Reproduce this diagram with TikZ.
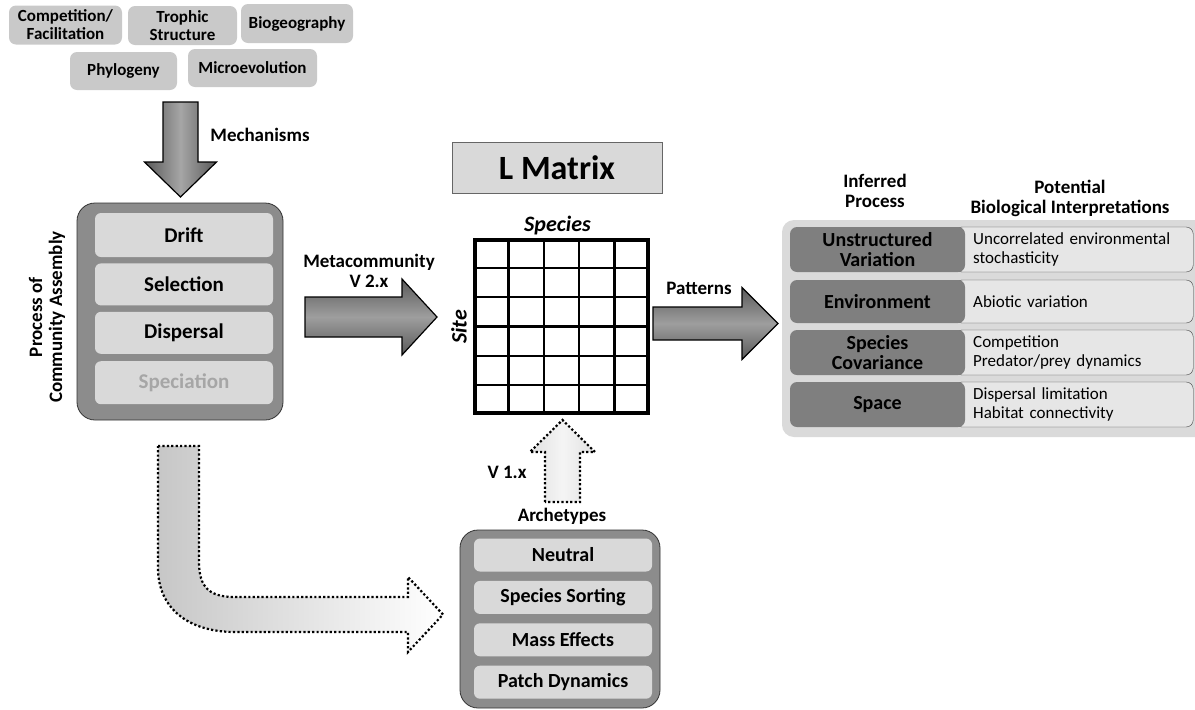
\documentclass[tikz,border=0pt]{standalone}
\usepackage{fontspec}
\setmainfont{Carlito}
\usetikzlibrary{positioning,calc}
\definecolor{topgray}{HTML}{C9C9C9}
\definecolor{groupgray}{HTML}{8C8C8C}
\definecolor{itemgray}{HTML}{D9D9D9}
\definecolor{fadedtext}{HTML}{A6A6A6}
\definecolor{panelgray}{HTML}{DADADA}
\definecolor{rowdarkgray}{HTML}{7F7F7F}
\definecolor{rowlightgray}{HTML}{E6E6E6}

\begin{document}
\begin{tikzpicture}[x=1pt, y=-1pt,
    topbox/.style={rectangle, rounded corners=7pt, fill=topgray, align=center,
                   font=\bfseries\fontsize{17}{18}\selectfont, inner sep=0pt},
    groupbox/.style={rectangle, rounded corners=18pt, draw=black!80,
                     line width=0.8pt, fill=groupgray},
    itembox/.style={rectangle, rounded corners=6pt, fill=itemgray,
                    minimum width=178pt, inner sep=0pt,
                    font=\bfseries\fontsize{21}{22}\selectfont},
    tag/.style={font=\bfseries\fontsize{19}{20}\selectfont, align=center,
                inner sep=0pt},
    fatarrow/.style={draw=black, line width=1.2pt, line join=miter},
    dotarrow/.style={draw=black, line width=2.2pt, dash pattern=on 2.2pt off 2.2pt},
    rowname/.style={rectangle, rounded corners=7pt, fill=rowdarkgray,
                    minimum width=175pt, minimum height=45pt, align=center,
                    inner sep=0pt, font=\bfseries\fontsize{20}{20}\selectfont},
    rowtext/.style={rectangle, rounded corners=7pt, draw=black!75, fill=rowlightgray,
                    anchor=west, text width=202pt, inner xsep=18pt, inner ysep=0pt,
                    minimum height=45pt, align=left,
                    font=\fontsize{17}{19}\selectfont}
]
\useasboundingbox (0,0) rectangle (1195,710);

% mechanisms
\node[topbox, minimum width=113pt, minimum height=39pt] (comp) at (65.5,25) {Competition/\\Facilitation};
\node[topbox, minimum width=109pt, minimum height=39pt] (trophic) at (182.5,25.5) {Trophic\\Structure};
\node[topbox, minimum width=112pt, minimum height=39pt] (biogeo) at (297,23.5) {Biogeography};
\node[topbox, minimum width=107pt, minimum height=38pt] (phylo) at (123.5,71) {Phylogeny};
\node[topbox, minimum width=129pt, minimum height=38pt] (microevo) at (252.5,68) {Microevolution};

\coordinate (mechA) at (180.5,102);
\draw[fatarrow, left color=black!65, right color=black!65, middle color=black!35]
    (mechA) ++(-17.5,0) -- ++(35,0) -- ++(0,60) -- ++(18.5,0) -- ++(-36,35)
    -- ++(-36,-35) -- ++(18.5,0) -- cycle;
\node[tag] (mechlabel) at (260,135) {Mechanisms};

% process of community assembly
\node[groupbox, minimum width=206pt, minimum height=217pt] (procbox) at (180,311.5) {};
\node[itembox, minimum height=44pt] (drift) at (184,235) {Drift};
\node[itembox, minimum height=42pt, below=6pt of drift] (selection) {Selection};
\node[itembox, minimum height=42pt, below=6pt of selection] (dispersal) {Dispersal};
\node[itembox, minimum height=43pt, below=7pt of dispersal, text=fadedtext] (speciation) {Speciation};
\node[tag, rotate=90] (proclabel) at (47,317) {Process of\\Community Assembly};

% metacommunity arrow
\coordinate (metaA) at (305,317);
\draw[fatarrow, top color=black!65, bottom color=black!65, middle color=black!38]
    (metaA) ++(0,-20) -- ++(97,0) -- ++(0,-18) -- ++(35,38) -- ++(-35,38)
    -- ++(0,-18) -- ++(-97,0) -- cycle;
\node[tag] (metalabel) at (369,271) {Metacommunity\\V 2.x};

% L matrix
\node[rectangle, draw=black!60, line width=0.8pt, fill=itemgray, minimum width=210pt,
      minimum height=51pt, font=\bfseries\fontsize{34}{34}\selectfont] (lmatrix) at (557,167.5) {L Matrix};
\node[draw, line width=3.2pt, minimum width=173pt, minimum height=173pt] (lmat) at (561.5,326.5) {};
\foreach \i in {1,...,4}
  \draw[line width=2.3pt] ($(lmat.north west)!\i/5!(lmat.north east)$)
      -- ($(lmat.south west)!\i/5!(lmat.south east)$);
\foreach \j in {1,...,5}
  \draw[line width=2.3pt] ($(lmat.north west)!\j/6!(lmat.south west)$)
      -- ($(lmat.north east)!\j/6!(lmat.south east)$);
\node[tag, font=\bfseries\itshape\fontsize{22}{22}\selectfont] (species) at (557.5,226) {Species};
\node[tag, font=\bfseries\itshape\fontsize{22}{22}\selectfont, rotate=90] (site) at (459,327) {Site};

% patterns arrow
\coordinate (patA) at (653,323.5);
\draw[fatarrow, top color=black!65, bottom color=black!65, middle color=black!38]
    (patA) ++(0,-16.5) -- ++(89,0) -- ++(0,-19.5) -- ++(36,36) -- ++(-36,36)
    -- ++(0,-19.5) -- ++(-89,0) -- cycle;
\node[tag] (patlabel) at (699,288) {Patterns};

% inferred processes
\fill[panelgray, rounded corners=12pt] (782,220) rectangle (1210,437);
\node[tag] (inferred) at (875,191) {Inferred\\Process};
\node[tag] (potential) at (1070,198) {Potential\\Biological Interpretations};

\node[rowtext] (uncorr) at (955,249.5) {Uncorrelated environmental\\stochasticity};
\node[rowname] (unstruct) at (877.5,249.5) {Unstructured\\Variation};
\node[rowtext, minimum height=43pt] (abiotic) at (955,301.5) {Abiotic variation};
\node[rowname, minimum height=43pt] (env) at (877.5,301.5) {Environment};
\node[rowtext] (compet) at (955,352.5) {Competition\\Predator/prey dynamics};
\node[rowname] (spcov) at (877.5,352.5) {Species\\Covariance};
\node[rowtext] (displim) at (955,404.5) {Dispersal limitation\\Habitat connectivity};
\node[rowname] (space) at (877.5,404.5) {Space};

% archetypes
\coordinate (v1A) at (562.5,502);
\draw[dotarrow, left color=black!12, right color=black!12, middle color=black!4]
    (v1A) ++(-17.5,0) -- ++(0,-50) -- ++(-15,0) -- ++(32.5,-32) -- ++(32.5,32)
    -- ++(-15,0) -- ++(0,50) -- cycle;
\node[tag] (v1label) at (507,472) {V 1.x};
\node[tag] (archlabel) at (562,516) {Archetypes};

\node[groupbox, minimum width=200pt, minimum height=178pt] (archbox) at (560,619) {};
\node[itembox, minimum height=33pt, font=\bfseries\fontsize{20}{21}\selectfont] (neutral) at (563,555) {Neutral};
\node[itembox, minimum height=33pt, font=\bfseries\fontsize{20}{21}\selectfont, below=9pt of neutral] (sorting) {Species Sorting};
\node[itembox, minimum height=33pt, font=\bfseries\fontsize{20}{21}\selectfont, below=9pt of sorting] (masseff) {Mass Effects};
\node[itembox, minimum height=33pt, font=\bfseries\fontsize{20}{21}\selectfont, below=9pt of masseff] (patchdyn) {Patch Dynamics};

% bent arrow to the archetypes
\draw[dotarrow, left color=black!22, right color=white]
    (158,446) -- (199,446) -- (199,562) .. controls (199,588) and (210,597) .. (235,597)
    -- (408,597) -- (408,577) -- (443,614.5) -- (408,652) -- (408,632) -- (235,632)
    .. controls (188,632) and (158,608) .. (158,568) -- cycle;
\end{tikzpicture}
\end{document}
